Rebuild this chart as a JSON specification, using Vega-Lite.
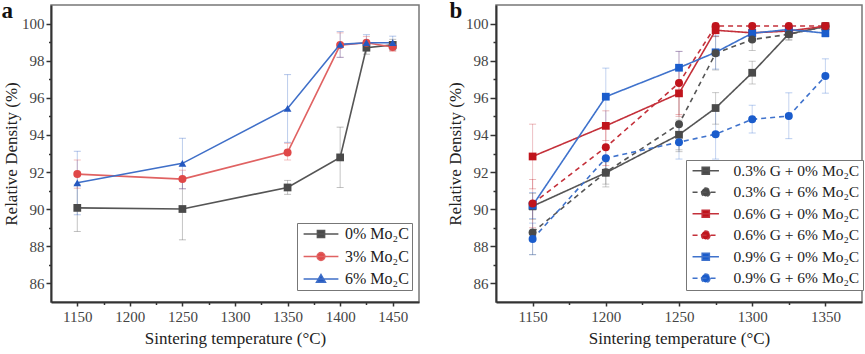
{
  "$schema": "https://vega.github.io/schema/vega-lite/v6.json",
  "padding": {"left": 0, "top": -1, "right": 1, "bottom": 2},
  "background": "white",
  "datasets": {
    "a": [
      {"s": "0% Mo₂C", "T": 1150, "y": 90.07, "lo": 88.8, "hi": 91.34},
      {"s": "0% Mo₂C", "T": 1250, "y": 90.01, "lo": 88.35, "hi": 91.67},
      {"s": "0% Mo₂C", "T": 1350, "y": 91.17, "lo": 90.8, "hi": 91.55},
      {"s": "0% Mo₂C", "T": 1400, "y": 92.79, "lo": 91.17, "hi": 94.42},
      {"s": "0% Mo₂C", "T": 1425, "y": 98.7, "lo": 98.35, "hi": 99.05},
      {"s": "0% Mo₂C", "T": 1450, "y": 98.85, "lo": 98.55, "hi": 99.15},
      {"s": "3% Mo₂C", "T": 1150, "y": 91.89, "lo": 91.13, "hi": 92.65},
      {"s": "3% Mo₂C", "T": 1250, "y": 91.62, "lo": 91.1, "hi": 92.1},
      {"s": "3% Mo₂C", "T": 1350, "y": 93.06, "lo": 92.65, "hi": 93.55},
      {"s": "3% Mo₂C", "T": 1400, "y": 98.84, "lo": 98.18, "hi": 99.5},
      {"s": "3% Mo₂C", "T": 1425, "y": 98.97, "lo": 98.6, "hi": 99.3},
      {"s": "3% Mo₂C", "T": 1450, "y": 98.74, "lo": 98.5, "hi": 99.0},
      {"s": "6% Mo₂C", "T": 1150, "y": 91.42, "lo": 89.7, "hi": 93.12},
      {"s": "6% Mo₂C", "T": 1250, "y": 92.47, "lo": 91.1, "hi": 93.82},
      {"s": "6% Mo₂C", "T": 1350, "y": 95.43, "lo": 93.6, "hi": 97.25},
      {"s": "6% Mo₂C", "T": 1400, "y": 98.88, "lo": 98.18, "hi": 99.57},
      {"s": "6% Mo₂C", "T": 1425, "y": 98.97, "lo": 98.55, "hi": 99.4},
      {"s": "6% Mo₂C", "T": 1450, "y": 98.97, "lo": 98.6, "hi": 99.32}
    ],
    "b": [
      {"s": "0.3% G + 0% Mo₂C", "T": 1150, "y": 90.16, "lo": 89.45, "hi": 90.85},
      {"s": "0.3% G + 0% Mo₂C", "T": 1200, "y": 91.96, "lo": 91.35, "hi": 92.55},
      {"s": "0.3% G + 0% Mo₂C", "T": 1250, "y": 94.01, "lo": 93.2, "hi": 94.8},
      {"s": "0.3% G + 0% Mo₂C", "T": 1275, "y": 95.45, "lo": 94.58, "hi": 96.28},
      {"s": "0.3% G + 0% Mo₂C", "T": 1300, "y": 97.35, "lo": 96.75, "hi": 97.97},
      {"s": "0.3% G + 0% Mo₂C", "T": 1325, "y": 99.44, "lo": 99.15, "hi": 99.75},
      {"s": "0.3% G + 0% Mo₂C", "T": 1350, "y": 99.84, "lo": 99.65, "hi": 100.0},
      {"s": "0.3% G + 6% Mo₂C", "T": 1150, "y": 88.75, "lo": 87.55, "hi": 89.95},
      {"s": "0.3% G + 6% Mo₂C", "T": 1200, "y": 91.99, "lo": 91.2, "hi": 92.8},
      {"s": "0.3% G + 6% Mo₂C", "T": 1250, "y": 94.58, "lo": 93.1, "hi": 96.1},
      {"s": "0.3% G + 6% Mo₂C", "T": 1275, "y": 98.4, "lo": 97.5, "hi": 99.3},
      {"s": "0.3% G + 6% Mo₂C", "T": 1300, "y": 99.14, "lo": 98.55, "hi": 99.7},
      {"s": "0.3% G + 6% Mo₂C", "T": 1325, "y": 99.42, "lo": 99.1, "hi": 99.75},
      {"s": "0.3% G + 6% Mo₂C", "T": 1350, "y": 99.85, "lo": 99.65, "hi": 100.05},
      {"s": "0.6% G + 0% Mo₂C", "T": 1150, "y": 92.84, "lo": 91.1, "hi": 94.58},
      {"s": "0.6% G + 0% Mo₂C", "T": 1200, "y": 94.49, "lo": 93.7, "hi": 95.3},
      {"s": "0.6% G + 0% Mo₂C", "T": 1250, "y": 96.24, "lo": 95.0, "hi": 97.5},
      {"s": "0.6% G + 0% Mo₂C", "T": 1275, "y": 99.64, "lo": 99.3, "hi": 99.95},
      {"s": "0.6% G + 0% Mo₂C", "T": 1300, "y": 99.5, "lo": 99.2, "hi": 99.8},
      {"s": "0.6% G + 0% Mo₂C", "T": 1325, "y": 99.6, "lo": 99.4, "hi": 99.8},
      {"s": "0.6% G + 0% Mo₂C", "T": 1350, "y": 99.86, "lo": 99.7, "hi": 100.0},
      {"s": "0.6% G + 6% Mo₂C", "T": 1150, "y": 90.3, "lo": 89.0, "hi": 91.6},
      {"s": "0.6% G + 6% Mo₂C", "T": 1200, "y": 93.34, "lo": 92.35, "hi": 94.35},
      {"s": "0.6% G + 6% Mo₂C", "T": 1250, "y": 96.8, "lo": 95.1, "hi": 98.5},
      {"s": "0.6% G + 6% Mo₂C", "T": 1275, "y": 99.87, "lo": 99.72, "hi": 100.02},
      {"s": "0.6% G + 6% Mo₂C", "T": 1300, "y": 99.87, "lo": 99.72, "hi": 100.02},
      {"s": "0.6% G + 6% Mo₂C", "T": 1325, "y": 99.87, "lo": 99.72, "hi": 100.02},
      {"s": "0.6% G + 6% Mo₂C", "T": 1350, "y": 99.87, "lo": 99.72, "hi": 100.02},
      {"s": "0.9% G + 0% Mo₂C", "T": 1150, "y": 90.2, "lo": 89.5, "hi": 90.9},
      {"s": "0.9% G + 0% Mo₂C", "T": 1200, "y": 96.06, "lo": 94.5, "hi": 97.6},
      {"s": "0.9% G + 0% Mo₂C", "T": 1250, "y": 97.62, "lo": 96.7, "hi": 98.5},
      {"s": "0.9% G + 0% Mo₂C", "T": 1275, "y": 98.45, "lo": 97.55, "hi": 99.35},
      {"s": "0.9% G + 0% Mo₂C", "T": 1300, "y": 99.48, "lo": 99.2, "hi": 99.78},
      {"s": "0.9% G + 0% Mo₂C", "T": 1325, "y": 99.68, "lo": 99.48, "hi": 99.88},
      {"s": "0.9% G + 0% Mo₂C", "T": 1350, "y": 99.48, "lo": 99.28, "hi": 99.68},
      {"s": "0.9% G + 6% Mo₂C", "T": 1150, "y": 88.39, "lo": 87.55, "hi": 89.25},
      {"s": "0.9% G + 6% Mo₂C", "T": 1200, "y": 92.75, "lo": 92.15, "hi": 93.35},
      {"s": "0.9% G + 6% Mo₂C", "T": 1250, "y": 93.61, "lo": 92.7, "hi": 94.5},
      {"s": "0.9% G + 6% Mo₂C", "T": 1275, "y": 94.04, "lo": 92.7, "hi": 95.4},
      {"s": "0.9% G + 6% Mo₂C", "T": 1300, "y": 94.84, "lo": 94.1, "hi": 95.6},
      {"s": "0.9% G + 6% Mo₂C", "T": 1325, "y": 95.02, "lo": 93.8, "hi": 96.27},
      {"s": "0.9% G + 6% Mo₂C", "T": 1350, "y": 97.17, "lo": 96.25, "hi": 98.1}
    ]
  },
  "resolve": {
    "scale": {"shape": "independent", "strokeDash": "independent", "fill": "independent", "stroke": "independent"},
    "legend": {"shape": "independent", "strokeDash": "independent", "fill": "independent", "stroke": "independent"}
  },
  "spacing": 25,
  "hconcat": [
    {
      "width": 368,
      "height": 297,
      "data": {"name": "a"},
      "title": {"text": "a", "anchor": "start", "frame": "bounds", "font": "Liberation Serif", "fontSize": 23, "fontWeight": "bold", "color": "#111", "baseline": "alphabetic", "offset": 0, "dy": 36, "dx": -1},
      "resolve": {"axis": {"x": "independent", "y": "independent"}},
      "layer": [
        {
          "mark": {"type": "point", "filled": true, "size": 144, "opacity": 0, "strokeWidth": 1.5},
          "encoding": {
            "x": {"field": "T", "type": "quantitative", "scale": {"domain": [1125, 1475], "nice": false, "zero": false}, "axis": null},
            "y": {"field": "y", "type": "quantitative", "scale": {"domain": [85, 101], "nice": false, "zero": false}, "axis": null},
            "shape": {
              "field": "s", "type": "nominal",
              "scale": {"domain": ["0% Mo₂C", "3% Mo₂C", "6% Mo₂C"], "range": ["M-2.9,0H2.9M-0.6,-0.6H0.6V0.6H-0.6Z", "M-2.9,0H2.9M0.65,0A0.65,0.65,0,1,1,-0.65,0A0.65,0.65,0,1,1,0.65,0Z", "M-2.9,0H2.9M0,-0.75L0.75,0.55H-0.75Z"]},
              "legend": {"orient": "none", "legendX": 246, "legendY": 218, "title": null, "padding": 3, "strokeColor": "#777", "fillColor": "white", "labelFont": "Liberation Serif", "labelFontSize": 16, "labelColor": "#222", "symbolSize": 144, "symbolOpacity": 1, "symbolStrokeWidth": 1.5, "symbolOffset": 13, "labelOffset": 16, "rowPadding": 6.5}
            },
            "fill": {"field": "s", "type": "nominal", "scale": {"domain": ["0% Mo₂C", "3% Mo₂C", "6% Mo₂C"], "range": ["#4a4a4a", "#e04848", "#2458c0"]},
              "legend": {"orient": "none", "legendX": 246, "legendY": 218, "title": null, "padding": 3, "strokeColor": "#777", "fillColor": "white", "labelFont": "Liberation Serif", "labelFontSize": 16, "labelColor": "#222", "symbolSize": 144, "symbolOpacity": 1, "symbolStrokeWidth": 1.5, "symbolOffset": 13, "labelOffset": 16, "rowPadding": 6.5}},
            "stroke": {"field": "s", "type": "nominal", "scale": {"domain": ["0% Mo₂C", "3% Mo₂C", "6% Mo₂C"], "range": ["#555555", "#e06262", "#3f6fc8"]},
              "legend": {"orient": "none", "legendX": 246, "legendY": 218, "title": null, "padding": 3, "strokeColor": "#777", "fillColor": "white", "labelFont": "Liberation Serif", "labelFontSize": 16, "labelColor": "#222", "symbolSize": 144, "symbolOpacity": 1, "symbolStrokeWidth": 1.5, "symbolOffset": 13, "labelOffset": 16, "rowPadding": 6.5}}
          }
        },
        {
          "mark": {"type": "rule", "strokeWidth": 1, "opacity": 0.35},
          "encoding": {
            "x": {"field": "T", "type": "quantitative", "axis": null},
            "y": {"field": "lo", "type": "quantitative", "axis": null},
            "y2": {"field": "hi"},
            "stroke": {"field": "s", "type": "nominal"}
          }
        },
        {
          "mark": {"type": "tick", "orient": "horizontal", "size": 7, "thickness": 1, "opacity": 0.35},
          "encoding": {
            "x": {"field": "T", "type": "quantitative", "axis": null},
            "y": {"field": "lo", "type": "quantitative", "axis": null},
            "fill": {"field": "s", "type": "nominal"}
          }
        },
        {
          "mark": {"type": "tick", "orient": "horizontal", "size": 7, "thickness": 1, "opacity": 0.35},
          "encoding": {
            "x": {"field": "T", "type": "quantitative", "axis": {"orient": "bottom", "values": [1175, 1225, 1275, 1325, 1375, 1425], "labels": false, "domain": false, "title": null, "tickSize": 2.5}},
            "y": {"field": "hi", "type": "quantitative", "axis": {"orient": "left", "values": [87, 89, 91, 93, 95, 97, 99], "labels": false, "domain": false, "title": null, "tickSize": 2.5}},
            "fill": {"field": "s", "type": "nominal"}
          }
        },
        {
          "mark": {"type": "line", "strokeWidth": 1.6},
          "encoding": {
            "x": {"field": "T", "type": "quantitative", "axis": {"orient": "bottom", "values": [1150, 1200, 1250, 1300, 1350, 1400, 1450], "format": "d", "title": "Sintering temperature (°C)", "tickSize": 4, "labelPadding": 3, "titlePadding": 6}},
            "y": {"field": "y", "type": "quantitative", "axis": {"orient": "left", "values": [86, 88, 90, 92, 94, 96, 98, 100], "format": "d", "title": "Relative Density (%)", "tickSize": 5, "labelPadding": 2, "titlePadding": 1}},
            "stroke": {"field": "s", "type": "nominal"}
          }
        },
        {
          "transform": [{"filter": {"field": "s", "equal": "0% Mo₂C"}}],
          "mark": {"type": "point", "shape": "square", "filled": true, "size": 60, "opacity": 1},
          "encoding": {
            "x": {"field": "T", "type": "quantitative", "axis": null},
            "y": {"field": "y", "type": "quantitative", "axis": null},
            "fill": {"field": "s", "type": "nominal"}
          }
        },
        {
          "transform": [{"filter": {"field": "s", "equal": "3% Mo₂C"}}],
          "mark": {"type": "point", "shape": "circle", "filled": true, "size": 64, "opacity": 1},
          "encoding": {
            "x": {"field": "T", "type": "quantitative", "axis": null},
            "y": {"field": "y", "type": "quantitative", "axis": null},
            "fill": {"field": "s", "type": "nominal"}
          }
        },
        {
          "transform": [{"filter": {"field": "s", "equal": "6% Mo₂C"}}],
          "mark": {"type": "point", "shape": "triangle-up", "filled": true, "size": 60, "opacity": 1},
          "encoding": {
            "x": {"field": "T", "type": "quantitative", "axis": null},
            "y": {"field": "y", "type": "quantitative", "axis": null},
            "fill": {"field": "s", "type": "nominal"}
          }
        }
      ]
    },
    {
      "width": 366,
      "height": 297,
      "data": {"name": "b"},
      "title": {"text": "b", "anchor": "start", "frame": "bounds", "font": "Liberation Serif", "fontSize": 23, "fontWeight": "bold", "color": "#111", "baseline": "alphabetic", "offset": 0, "dy": 36, "dx": 3},
      "resolve": {"axis": {"x": "independent", "y": "independent"}},
      "layer": [
        {
          "mark": {"type": "point", "filled": true, "size": 144, "opacity": 0, "strokeWidth": 1.5},
          "encoding": {
            "x": {"field": "T", "type": "quantitative", "scale": {"domain": [1125, 1375], "nice": false, "zero": false}, "axis": null},
            "y": {"field": "y", "type": "quantitative", "scale": {"domain": [85, 101], "nice": false, "zero": false}, "axis": null},
            "shape": {
              "field": "s", "type": "nominal",
              "scale": {"domain": ["0.3% G + 0% Mo₂C", "0.3% G + 6% Mo₂C", "0.6% G + 0% Mo₂C", "0.6% G + 6% Mo₂C", "0.9% G + 0% Mo₂C", "0.9% G + 6% Mo₂C"], "range": ["M-2.2,0H2.2M-0.6,-0.6H0.6V0.6H-0.6Z", "M-2.2,0H2.2M0.7,0A0.7,0.7,0,1,1,-0.7,0A0.7,0.7,0,1,1,0.7,0Z", "M-2.2,0H2.2M-0.6,-0.6H0.6V0.6H-0.6Z", "M-2.2,0H2.2M0.7,0A0.7,0.7,0,1,1,-0.7,0A0.7,0.7,0,1,1,0.7,0Z", "M-2.2,0H2.2M-0.6,-0.6H0.6V0.6H-0.6Z", "M-2.2,0H2.2M0.7,0A0.7,0.7,0,1,1,-0.7,0A0.7,0.7,0,1,1,0.7,0Z"]},
              "legend": {"orient": "none", "legendX": 190, "legendY": 155, "title": null, "padding": 3, "strokeColor": "#777", "fillColor": "white", "labelFont": "Liberation Serif", "labelFontSize": 15.5, "labelColor": "#222", "symbolSize": 144, "symbolOpacity": 1, "symbolStrokeWidth": 1.5, "symbolOffset": 9, "labelOffset": 20, "rowPadding": 4.5}
            },
            "fill": {"field": "s", "type": "nominal", "scale": {"domain": ["0.3% G + 0% Mo₂C", "0.3% G + 6% Mo₂C", "0.6% G + 0% Mo₂C", "0.6% G + 6% Mo₂C", "0.9% G + 0% Mo₂C", "0.9% G + 6% Mo₂C"], "range": ["#4a4a4a", "#4a4a4a", "#c0141c", "#c0141c", "#1a5ccc", "#1a5ccc"]},
              "legend": {"orient": "none", "legendX": 190, "legendY": 155, "title": null, "padding": 3, "strokeColor": "#777", "fillColor": "white", "labelFont": "Liberation Serif", "labelFontSize": 15.5, "labelColor": "#222", "symbolSize": 144, "symbolOpacity": 1, "symbolStrokeWidth": 1.5, "symbolOffset": 9, "labelOffset": 20, "rowPadding": 4.5}},
            "stroke": {"field": "s", "type": "nominal", "scale": {"domain": ["0.3% G + 0% Mo₂C", "0.3% G + 6% Mo₂C", "0.6% G + 0% Mo₂C", "0.6% G + 6% Mo₂C", "0.9% G + 0% Mo₂C", "0.9% G + 6% Mo₂C"], "range": ["#555555", "#555555", "#c4303a", "#c4303a", "#3f72cc", "#3f72cc"]},
              "legend": {"orient": "none", "legendX": 190, "legendY": 155, "title": null, "padding": 3, "strokeColor": "#777", "fillColor": "white", "labelFont": "Liberation Serif", "labelFontSize": 15.5, "labelColor": "#222", "symbolSize": 144, "symbolOpacity": 1, "symbolStrokeWidth": 1.5, "symbolOffset": 9, "labelOffset": 20, "rowPadding": 4.5}},
            "strokeDash": {"field": "s", "type": "nominal", "scale": {"domain": ["0.3% G + 0% Mo₂C", "0.3% G + 6% Mo₂C", "0.6% G + 0% Mo₂C", "0.6% G + 6% Mo₂C", "0.9% G + 0% Mo₂C", "0.9% G + 6% Mo₂C"], "range": [[1, 0], [5, 4], [1, 0], [5, 4], [1, 0], [5, 4]]},
              "legend": {"orient": "none", "legendX": 190, "legendY": 155, "title": null, "padding": 3, "strokeColor": "#777", "fillColor": "white", "labelFont": "Liberation Serif", "labelFontSize": 15.5, "labelColor": "#222", "symbolSize": 144, "symbolOpacity": 1, "symbolStrokeWidth": 1.5, "symbolOffset": 9, "labelOffset": 20, "rowPadding": 4.5}}
          }
        },
        {
          "mark": {"type": "rule", "strokeWidth": 1, "opacity": 0.3},
          "encoding": {
            "x": {"field": "T", "type": "quantitative", "axis": null},
            "y": {"field": "lo", "type": "quantitative", "axis": null},
            "y2": {"field": "hi"},
            "stroke": {"field": "s", "type": "nominal"}
          }
        },
        {
          "mark": {"type": "tick", "orient": "horizontal", "size": 7, "thickness": 1, "opacity": 0.3},
          "encoding": {
            "x": {"field": "T", "type": "quantitative", "axis": null},
            "y": {"field": "lo", "type": "quantitative", "axis": null},
            "fill": {"field": "s", "type": "nominal"}
          }
        },
        {
          "mark": {"type": "tick", "orient": "horizontal", "size": 7, "thickness": 1, "opacity": 0.3},
          "encoding": {
            "x": {"field": "T", "type": "quantitative", "axis": {"orient": "bottom", "values": [1175, 1225, 1275, 1325], "labels": false, "domain": false, "title": null, "tickSize": 2.5}},
            "y": {"field": "hi", "type": "quantitative", "axis": {"orient": "left", "values": [87, 89, 91, 93, 95, 97, 99], "labels": false, "domain": false, "title": null, "tickSize": 3}},
            "fill": {"field": "s", "type": "nominal"}
          }
        },
        {
          "mark": {"type": "line", "strokeWidth": 1.6},
          "encoding": {
            "x": {"field": "T", "type": "quantitative", "axis": {"orient": "bottom", "values": [1150, 1200, 1250, 1300, 1350], "format": "d", "title": "Sintering temperature (°C)", "tickSize": 4, "labelPadding": 3, "titlePadding": 6}},
            "y": {"field": "y", "type": "quantitative", "axis": {"orient": "left", "values": [86, 88, 90, 92, 94, 96, 98, 100], "format": "d", "title": "Relative Density (%)", "tickSize": 6, "labelPadding": 2, "titlePadding": 1}},
            "stroke": {"field": "s", "type": "nominal"},
            "strokeDash": {"field": "s", "type": "nominal"}
          }
        },
        {
          "transform": [{"filter": {"field": "s", "oneOf": ["0.3% G + 0% Mo₂C", "0.6% G + 0% Mo₂C", "0.9% G + 0% Mo₂C"]}}],
          "mark": {"type": "point", "shape": "square", "filled": true, "size": 60, "opacity": 1},
          "encoding": {
            "x": {"field": "T", "type": "quantitative", "axis": null},
            "y": {"field": "y", "type": "quantitative", "axis": null},
            "fill": {"field": "s", "type": "nominal"}
          }
        },
        {
          "transform": [{"filter": {"field": "s", "oneOf": ["0.3% G + 6% Mo₂C", "0.6% G + 6% Mo₂C", "0.9% G + 6% Mo₂C"]}}],
          "mark": {"type": "point", "shape": "circle", "filled": true, "size": 64, "opacity": 1},
          "encoding": {
            "x": {"field": "T", "type": "quantitative", "axis": null},
            "y": {"field": "y", "type": "quantitative", "axis": null},
            "fill": {"field": "s", "type": "nominal"}
          }
        }
      ]
    }
  ],
  "config": {
    "font": "Liberation Serif",
    "view": {"stroke": "#777", "strokeWidth": 1.5},
    "axis": {
      "grid": false,
      "domainColor": "#333",
      "domainWidth": 2,
      "tickColor": "#333",
      "tickWidth": 1.5,
      "labelFont": "Liberation Serif",
      "labelFontSize": 15,
      "labelColor": "#444",
      "titleFont": "Liberation Serif",
      "titleFontSize": 17,
      "titleFontWeight": "normal",
      "titleColor": "#222"
    }
  }
}
